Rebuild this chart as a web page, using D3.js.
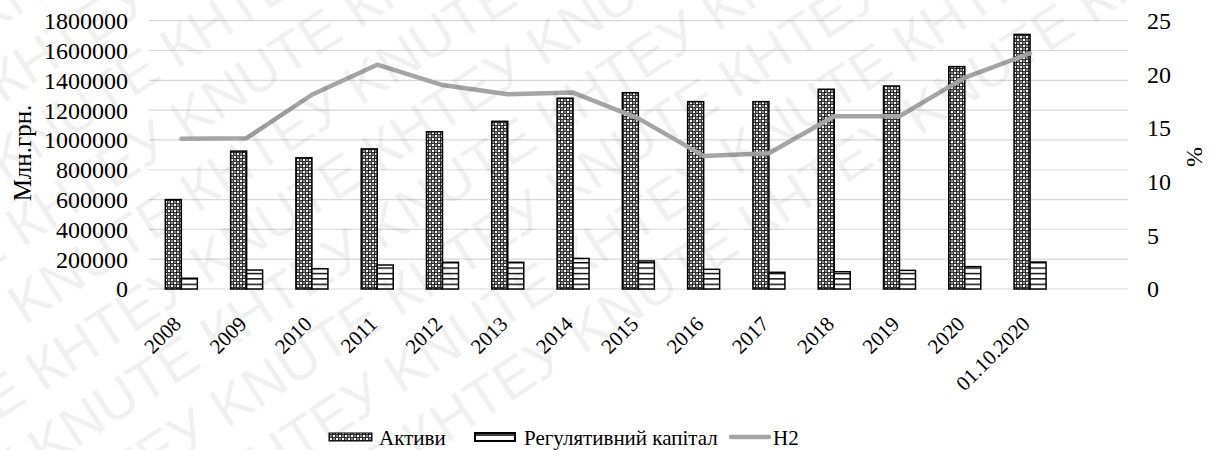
<!DOCTYPE html>
<html>
<head>
<meta charset="utf-8">
<script src="https://cdn.jsdelivr.net/npm/d3@7"></script>
<style>
  html, body { margin: 0; padding: 0; background: #fff; }
  svg { display: block; font-family: "Liberation Serif", "Times New Roman", serif; }
</style>
</head>
<body>
<svg id="chart" width="1212" height="450"></svg>
<script>
// Period labels (the trailing empty slot keeps Excel-style spare room on the right)
const categories = ["2008", "2009", "2010", "2011", "2012", "2013", "2014", "2015",
                    "2016", "2017", "2018", "2019", "2020", "01.10.2020"];
// Assets, UAH mln
const assets = [600000, 925000, 880000, 940000, 1055000, 1125000, 1280000, 1317000,
                1257000, 1257000, 1340000, 1362000, 1492000, 1708000];
// Regulatory capital, UAH mln
const regCapital = [72000, 127000, 136000, 161000, 179000, 179000, 205000, 188000,
                    132000, 112000, 116000, 125000, 150000, 181000];
// H2 ratio, %
const h2 = [14.0, 14.05, 18.1, 20.9, 19.0, 18.15, 18.3, 15.9,
            12.4, 12.65, 16.1, 16.1, 19.7, 21.95];
const leftTicks = [0, 200000, 400000, 600000, 800000, 1000000, 1200000, 1400000, 1600000, 1800000];
const rightTicks = [0, 5, 10, 15, 20, 25];

const svg = d3.select("#chart");
const plotLeft = 148.7, plotRight = 1128, plotTop = 20.7, plotBottom = 289;

const x = d3.scaleBand().domain([...categories, ""]).range([plotLeft, plotRight]).padding(0);
const yL = d3.scaleLinear().domain([0, 1800000]).range([plotBottom, plotTop]);
const yR = d3.scaleLinear().domain([0, 25]).range([plotBottom, plotTop]);
const barW = 16;

// Fill patterns
const defs = svg.append("defs");
const pa = defs.append("pattern").attr("id", "patAssets")
  .attr("patternUnits", "userSpaceOnUse").attr("width", 6).attr("height", 6);
pa.append("rect").attr("width", 6).attr("height", 6).attr("fill", "#333");
pa.append("rect").attr("x", 0).attr("y", 0).attr("width", 2).attr("height", 2).attr("fill", "#fff");
pa.append("rect").attr("x", 3).attr("y", 3).attr("width", 2).attr("height", 2).attr("fill", "#fff");
pa.append("rect").attr("x", 3).attr("y", 0).attr("width", 2).attr("height", 2).attr("fill", "#8c8c8c");
pa.append("rect").attr("x", 0).attr("y", 3).attr("width", 2).attr("height", 2).attr("fill", "#8c8c8c");
pa.append("rect").attr("x", 2).attr("y", 2).attr("width", 1).attr("height", 1).attr("fill", "#000");

const pr = defs.append("pattern").attr("id", "patReg")
  .attr("patternUnits", "userSpaceOnUse").attr("width", 8).attr("height", 5.4)
  .attr("y", plotBottom);
pr.append("rect").attr("width", 8).attr("height", 5.4).attr("fill", "#fff");
pr.append("rect").attr("y", 0).attr("width", 8).attr("height", 1.4).attr("fill", "#000");

// Gridlines
svg.append("g").selectAll("line").data(leftTicks).join("line")
  .attr("x1", plotLeft).attr("x2", plotRight)
  .attr("y1", d => yL(d)).attr("y2", d => yL(d))
  .attr("stroke", "#d9d9d9").attr("stroke-width", 1.2);

// Left axis labels
svg.append("g").selectAll("text").data(leftTicks).join("text")
  .attr("x", 128).attr("y", d => yL(d)).attr("dy", "0.35em")
  .attr("text-anchor", "end").attr("font-size", 24).attr("fill", "#000")
  .text(d => d);

// Right axis labels
svg.append("g").selectAll("text").data(rightTicks).join("text")
  .attr("x", 1147).attr("y", d => yR(d)).attr("dy", "0.35em")
  .attr("text-anchor", "start").attr("font-size", 24).attr("fill", "#000")
  .text(d => d);

// Axis titles
svg.append("text").attr("transform", "translate(31,153) rotate(-90)")
  .attr("text-anchor", "middle").attr("font-size", 25).text("Млн.грн.");
svg.append("text").attr("transform", "translate(1187,157) rotate(90)")
  .attr("text-anchor", "middle").attr("font-size", 24).text("%");

// Bars
const bars = svg.append("g");
bars.selectAll("rect.a").data(categories).join("rect").attr("class", "a")
  .attr("x", (d) => x(d) + x.bandwidth() / 2 - barW)
  .attr("y", (d, i) => yL(assets[i]))
  .attr("width", barW)
  .attr("height", (d, i) => plotBottom - yL(assets[i]))
  .attr("fill", "url(#patAssets)").attr("stroke", "#000").attr("stroke-width", 1.5);
bars.selectAll("rect.r").data(categories).join("rect").attr("class", "r")
  .attr("x", (d) => x(d) + x.bandwidth() / 2)
  .attr("y", (d, i) => yL(regCapital[i]))
  .attr("width", barW)
  .attr("height", (d, i) => plotBottom - yL(regCapital[i]))
  .attr("fill", "url(#patReg)").attr("stroke", "#000").attr("stroke-width", 1.5);

// H2 line on the right axis
const line = d3.line()
  .x((d, i) => x(categories[i]) + x.bandwidth() / 2)
  .y(d => yR(d));
svg.append("path").datum(h2).attr("d", line)
  .attr("fill", "none").attr("stroke", "#a5a5a5").attr("stroke-width", 4.5)
  .attr("stroke-linejoin", "round").attr("stroke-linecap", "round");

// Category labels, slanted
svg.append("g").selectAll("text").data(categories).join("text")
  .attr("transform", d => `translate(${x(d) + x.bandwidth() / 2 - 4},${320}) rotate(-45)`)
  .attr("text-anchor", "end").attr("dy", "0.35em")
  .attr("font-size", 21).text(d => d);

// Legend
const lg = svg.append("g").attr("font-size", 21);
lg.append("rect").attr("x", 329).attr("y", 433).attr("width", 43).attr("height", 8)
  .attr("fill", "url(#patAssets)").attr("stroke", "#000").attr("stroke-width", 1);
lg.append("text").attr("x", 379).attr("y", 438).attr("dy", "0.35em").text("Активи");
lg.append("rect").attr("x", 475).attr("y", 433).attr("width", 40).attr("height", 8)
  .attr("fill", "#fff").attr("stroke", "#000").attr("stroke-width", 2);
lg.append("line").attr("x1", 475).attr("x2", 515).attr("y1", 435).attr("y2", 435)
  .attr("stroke", "#000").attr("stroke-width", 1.5);
lg.append("text").attr("x", 524).attr("y", 438).attr("dy", "0.35em").text("Регулятивний капітал");
lg.append("line").attr("x1", 731).attr("x2", 769).attr("y1", 437).attr("y2", 437)
  .attr("stroke", "#a5a5a5").attr("stroke-width", 4.5).attr("stroke-linecap", "round");
lg.append("text").attr("x", 773).attr("y", 438).attr("dy", "0.35em").text("Н2");

// Diagonal watermark
const wm = svg.append("g").attr("pointer-events", "none")
  .attr("font-family", "'Liberation Sans', Arial, sans-serif")
  .attr("font-size", 56).attr("fill", "#000").attr("fill-opacity", 0.06);
const words = ["КНТЕУ", "KNUTE"];
const rows = d3.range(-8, 12);
rows.forEach(r => {
  const rowText = d3.range(0, 10).map(k => words[(k + r + 100) % 2]).join(" ");
  wm.append("text")
    .attr("transform", `translate(${-200 + r * 10},${r * 72}) rotate(-33)`)
    .text(rowText);
});
</script>
</body>
</html>
